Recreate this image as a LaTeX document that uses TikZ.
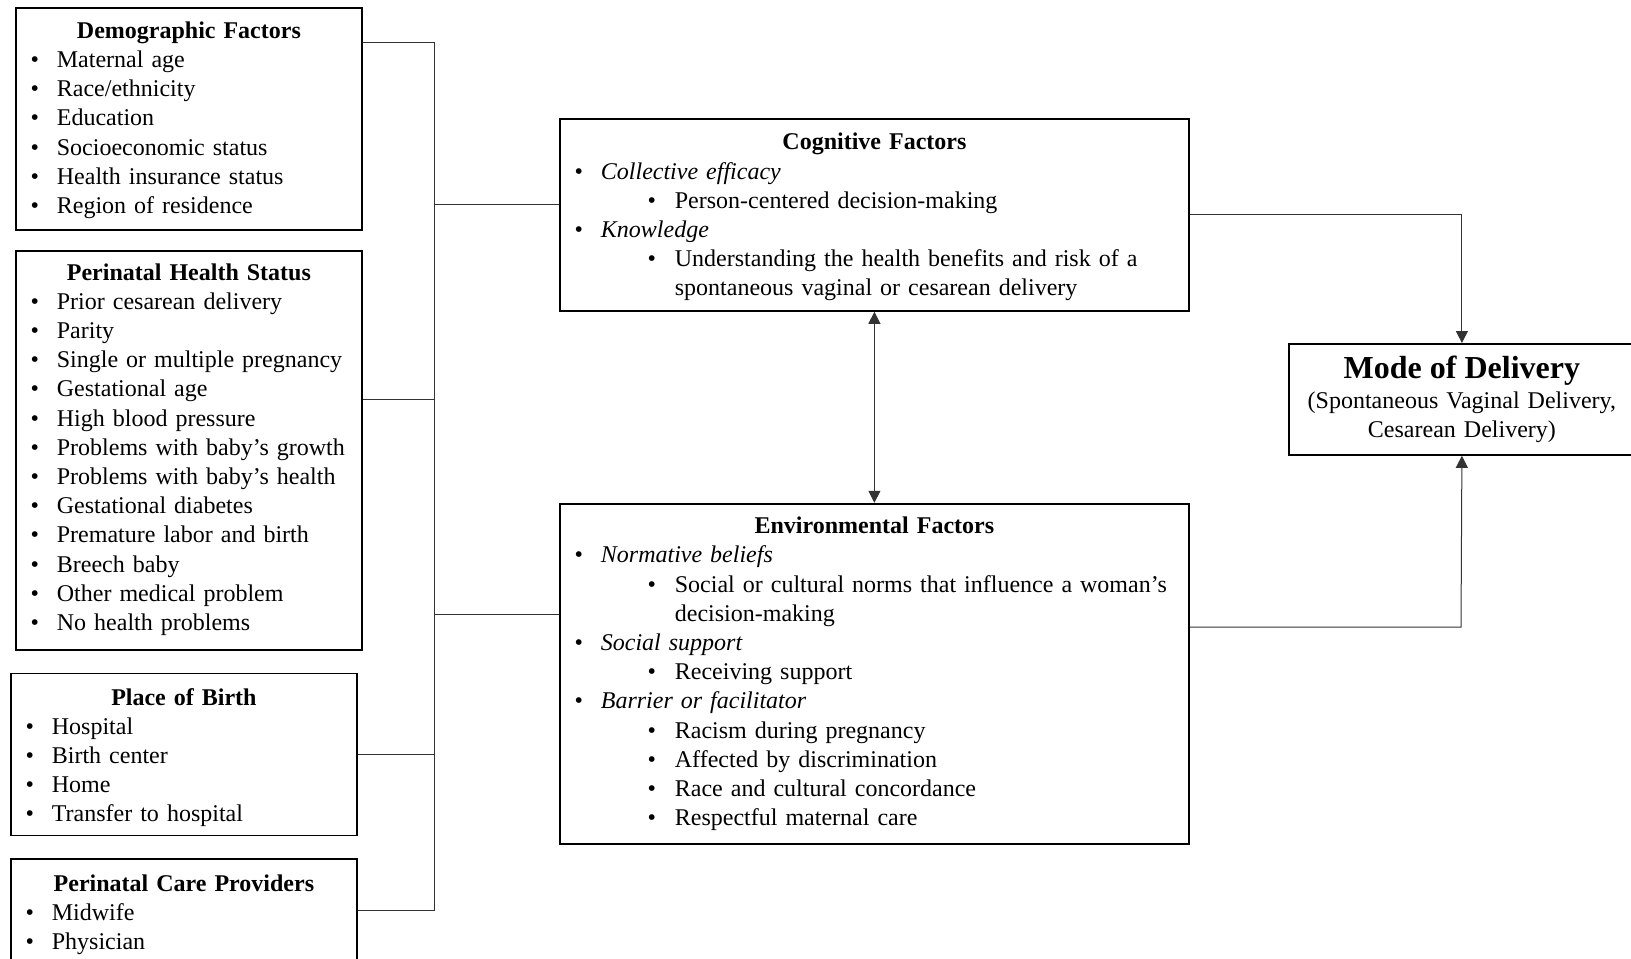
\documentclass[tikz,border=0pt]{standalone}
\usepackage{fontspec}
\setmainfont{Liberation Serif}
\usepackage{tikz}
\usetikzlibrary{positioning}
\usetikzlibrary{arrows.meta}

\newcommand{\lift}[1]{\vspace*{-#1}}
\newcommand{\boxhead}[1]{\par\noindent\makebox[\linewidth]{\textbf{#1}}}
\newcommand{\itm}[1]{\par\hangindent=16.5pt\hangafter=1\noindent\hbox to 16.5pt{\hskip 3.4pt\textbullet\hfil}#1\par}
\newcommand{\subitm}[1]{\par\hangindent=53.5pt\hangafter=1\noindent\hbox to 53.5pt{\hskip 39.9pt\textbullet\hfil}#1\par}

\begin{document}
\begin{tikzpicture}[x=0.5pt, y=-0.5pt, >={Triangle[length=6pt,width=6pt]}]
\tikzstyle{factor}=[draw=black, line width=0.9pt, anchor=north west, align=left,
  inner xsep=4pt, inner ysep=0pt, font=\fontsize{12}{14.6}\selectfont]
\tikzstyle{link}=[draw=black!80, line width=0.5pt]
\useasboundingbox (0,0) rectangle (1631,958);

% left column
\node[factor, text width=165pt, minimum height=111pt] (demo) at (15,7)
  {\lift{5pt}\boxhead{Demographic Factors}
   \itm{Maternal age}\itm{Race/ethnicity}\itm{Education}
   \itm{Socioeconomic status}\itm{Health insurance status}\itm{Region of residence}};
\node[factor, text width=165pt, minimum height=199.5pt] (health)
  [below=9.5pt of demo.south west, anchor=north west]
  {\lift{7pt}\boxhead{Perinatal Health Status}
   \itm{Prior cesarean delivery}\itm{Parity}\itm{Single or multiple pregnancy}
   \itm{Gestational age}\itm{High blood pressure}\itm{Problems with baby’s growth}
   \itm{Problems with baby’s health}\itm{Gestational diabetes}
   \itm{Premature labor and birth}\itm{Breech baby}\itm{Other medical problem}
   \itm{No health problems}};
\node[factor, text width=165pt, minimum height=81pt] (place)
  [below=11pt of health.south west, anchor=north west, xshift=-2.5pt]
  {\lift{3pt}\boxhead{Place of Birth}
   \itm{Hospital}\itm{Birth center}\itm{Home}\itm{Transfer to hospital}};
\node[factor, text width=165pt, minimum height=54pt] (care)
  [below=11pt of place.south west, anchor=north west]
  {\lift{5pt}\boxhead{Perinatal Care Providers}
   \itm{Midwife}\itm{Physician}};

% middle column
\node[factor, text width=306.5pt, minimum height=96pt] (cog) at (559,118)
  {\lift{4pt}\boxhead{Cognitive Factors}
   \itm{\textit{Collective efficacy}}
   \subitm{Person-centered decision-making}
   \itm{\textit{Knowledge}}
   \subitm{Understanding the health benefits and risk of a\newline spontaneous vaginal or cesarean delivery}};
\node[factor, text width=306.5pt, minimum height=170pt] (env) [below=95.5pt of cog]
  {\lift{6pt}\boxhead{Environmental Factors}
   \itm{\textit{Normative beliefs}}
   \subitm{Social or cultural norms that influence a woman’s\newline decision-making}
   \itm{\textit{Social support}}
   \subitm{Receiving support}
   \itm{\textit{Barrier or facilitator}}
   \subitm{Racism during pregnancy}\subitm{Affected by discrimination}
   \subitm{Race and cultural concordance}\subitm{Respectful maternal care}};

% outcome
\node[factor, align=center, text width=165pt, minimum height=55.5pt] (mode) at (1288,343)
  {{\fontsize{16}{19}\selectfont\bfseries Mode of Delivery}\\
   (Spontaneous Vaginal Delivery,\\ Cesarean Delivery)};

% bus on the left
\coordinate (b1) at (434,42);
\coordinate (b2) at (434,399);
\coordinate (b3) at (434,754);
\coordinate (b4) at (434,910);
\coordinate (b5) at (434,204);
\coordinate (b6) at (434,614);
\coordinate (r2) at (1461,627);

\draw[link] (demo.east |- b1) -- (b1) -- (b4) -- (care.east |- b4);
\draw[link] (health.east |- b2) -- (b2);
\draw[link] (place.east |- b3) -- (b3);
\draw[link] (b5) -- (cog.west |- b5);
\draw[link] (b6) -- (env.west |- b6);

\draw[link, <->] (cog.south) -- (env.north);
\draw[link, ->] (cog.east) -| (mode.north);
\draw[link, ->] (env.east |- r2) -- (r2) -- (mode.south);
\end{tikzpicture}
\end{document}
